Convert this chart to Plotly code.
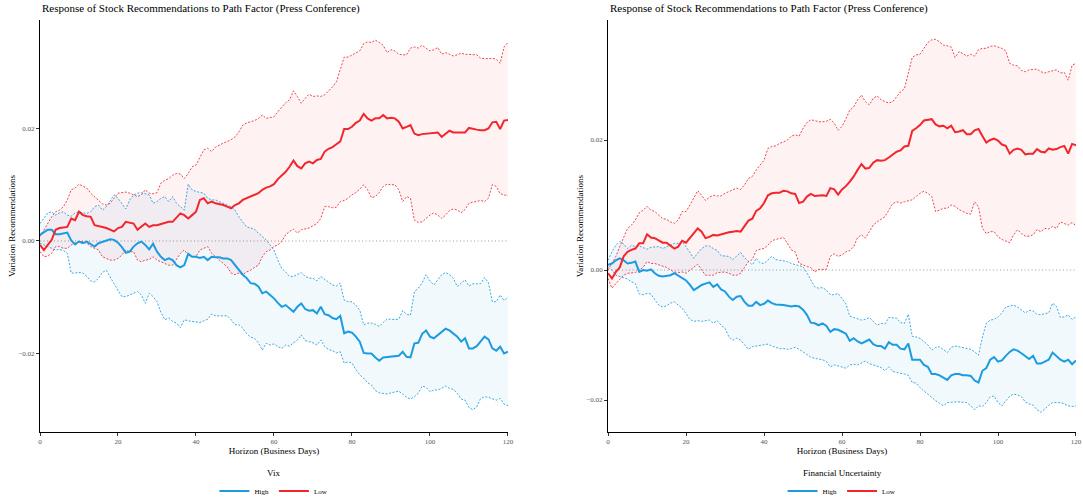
import plotly.graph_objects as go

days = list(range(0, 121))

# ---------------- Panel 1 : Vix ----------------
vix_low_mid = [-0.0007, -0.0016, -0.0007, 0.0002, 0.0020, 0.0023, 0.0024, 0.0025, 0.0040, 0.0037,
               0.0052, 0.0046, 0.0044, 0.0043, 0.0028, 0.0027, 0.0025, 0.0023, 0.0020, 0.0017,
               0.0023, 0.0025, 0.0034, 0.0033, 0.0031, 0.0020, 0.0025, 0.0031, 0.0025, 0.0028,
               0.0028, 0.0030, 0.0031, 0.0034, 0.0034, 0.0042, 0.0049, 0.0046, 0.0040, 0.0046,
               0.0052, 0.0073, 0.0076, 0.0067, 0.0070, 0.0067, 0.0066, 0.0064, 0.0061, 0.0058,
               0.0064, 0.0067, 0.0073, 0.0076, 0.0079, 0.0082, 0.0085, 0.0091, 0.0095, 0.0097,
               0.0101, 0.0110, 0.0116, 0.0123, 0.0132, 0.0143, 0.0133, 0.0129, 0.0138, 0.0141,
               0.0138, 0.0144, 0.0146, 0.0159, 0.0164, 0.0167, 0.0172, 0.0177, 0.0199, 0.0199,
               0.0203, 0.0210, 0.0214, 0.0226, 0.0218, 0.0214, 0.0218, 0.0218, 0.0224, 0.0218,
               0.0219, 0.0218, 0.0212, 0.0200, 0.0203, 0.0206, 0.0191, 0.0188, 0.0190, 0.0191,
               0.0192, 0.0193, 0.0193, 0.0185, 0.0190, 0.0196, 0.0193, 0.0193, 0.0192, 0.0193,
               0.0201, 0.0199, 0.0198, 0.0197, 0.0197, 0.0200, 0.0211, 0.0212, 0.0199, 0.0214,
               0.0215]
vix_low_up = [0.0008, 0.0020, 0.0031, 0.0043, 0.0052, 0.0055, 0.0061, 0.0073, 0.0091, 0.0094,
              0.0101, 0.0097, 0.0094, 0.0085, 0.0079, 0.0073, 0.0066, 0.0064, 0.0067, 0.0076,
              0.0085, 0.0086, 0.0087, 0.0085, 0.0082, 0.0079, 0.0082, 0.0091, 0.0085, 0.0084,
              0.0086, 0.0103, 0.0108, 0.0111, 0.0117, 0.0120, 0.0119, 0.0111, 0.0120, 0.0132,
              0.0135, 0.0150, 0.0162, 0.0165, 0.0159, 0.0167, 0.0171, 0.0174, 0.0177, 0.0180,
              0.0185, 0.0194, 0.0206, 0.0210, 0.0212, 0.0214, 0.0218, 0.0224, 0.0218, 0.0220,
              0.0221, 0.0230, 0.0239, 0.0246, 0.0251, 0.0267, 0.0257, 0.0245, 0.0254, 0.0261,
              0.0257, 0.0258, 0.0257, 0.0260, 0.0267, 0.0274, 0.0283, 0.0304, 0.0327, 0.0327,
              0.0331, 0.0334, 0.0338, 0.0351, 0.0354, 0.0353, 0.0357, 0.0353, 0.0348, 0.0335,
              0.0340, 0.0338, 0.0332, 0.0331, 0.0331, 0.0343, 0.0345, 0.0343, 0.0348, 0.0343,
              0.0338, 0.0340, 0.0344, 0.0332, 0.0335, 0.0332, 0.0329, 0.0331, 0.0334, 0.0332,
              0.0332, 0.0332, 0.0331, 0.0325, 0.0324, 0.0324, 0.0325, 0.0323, 0.0316, 0.0345,
              0.0353]
vix_low_lo = [-0.0019, -0.0028, -0.0027, -0.0022, -0.0010, -0.0010, -0.0013, -0.0013, -0.0007, -0.0004,
              -0.0001, -0.0001, -0.0004, -0.0010, -0.0013, -0.0016, -0.0028, -0.0031, -0.0034, -0.0034,
              -0.0031, -0.0025, -0.0016, -0.0019, -0.0019, -0.0034, -0.0037, -0.0034, -0.0033, -0.0028,
              -0.0034, -0.0037, -0.0040, -0.0043, -0.0043, -0.0033, -0.0022, -0.0016, -0.0025, -0.0028,
              -0.0028, -0.0016, -0.0013, -0.0010, -0.0022, -0.0028, -0.0034, -0.0040, -0.0046, -0.0057,
              -0.0060, -0.0057, -0.0060, -0.0055, -0.0052, -0.0047, -0.0043, -0.0028, -0.0019, -0.0016,
              -0.0010, -0.0007, -0.0001, 0.0011, 0.0017, 0.0021, 0.0014, 0.0020, 0.0021, 0.0023,
              0.0027, 0.0031, 0.0040, 0.0061, 0.0061, 0.0059, 0.0060, 0.0070, 0.0072, 0.0076,
              0.0082, 0.0086, 0.0092, 0.0100, 0.0091, 0.0077, 0.0079, 0.0086, 0.0097, 0.0101,
              0.0100, 0.0100, 0.0091, 0.0070, 0.0079, 0.0076, 0.0037, 0.0033, 0.0034, 0.0040,
              0.0046, 0.0050, 0.0046, 0.0040, 0.0046, 0.0054, 0.0057, 0.0055, 0.0050, 0.0056,
              0.0067, 0.0069, 0.0070, 0.0072, 0.0070, 0.0076, 0.0100, 0.0097, 0.0084, 0.0082,
              0.0080]
vix_high_mid = [0.0011, 0.0015, 0.0020, 0.0020, 0.0012, 0.0012, 0.0014, 0.0015, 0.0001, -0.0006,
                -0.0001, -0.0004, -0.0001, -0.0006, -0.0010, -0.0004, -0.0002, 0.0001, 0.0003, 0.0002,
                -0.0003, -0.0011, -0.0021, -0.0019, -0.0010, -0.0004, -0.0001, -0.0007, -0.0015, -0.0005,
                -0.0019, -0.0028, -0.0034, -0.0031, -0.0034, -0.0043, -0.0047, -0.0043, -0.0023, -0.0028,
                -0.0028, -0.0030, -0.0028, -0.0034, -0.0028, -0.0029, -0.0029, -0.0031, -0.0031, -0.0034,
                -0.0043, -0.0050, -0.0060, -0.0066, -0.0075, -0.0076, -0.0081, -0.0093, -0.0090, -0.0096,
                -0.0102, -0.0110, -0.0117, -0.0114, -0.0120, -0.0126, -0.0117, -0.0111, -0.0121, -0.0124,
                -0.0123, -0.0129, -0.0117, -0.0130, -0.0132, -0.0137, -0.0139, -0.0133, -0.0164, -0.0161,
                -0.0163, -0.0170, -0.0179, -0.0199, -0.0200, -0.0200, -0.0207, -0.0213, -0.0207, -0.0206,
                -0.0206, -0.0204, -0.0204, -0.0197, -0.0206, -0.0207, -0.0182, -0.0181, -0.0165, -0.0159,
                -0.0170, -0.0173, -0.0167, -0.0161, -0.0156, -0.0159, -0.0164, -0.0170, -0.0179, -0.0173,
                -0.0191, -0.0191, -0.0187, -0.0179, -0.0170, -0.0175, -0.0191, -0.0195, -0.0188, -0.0200,
                -0.0197]
vix_high_up = [0.0031, 0.0040, 0.0050, 0.0052, 0.0046, 0.0050, 0.0052, 0.0046, 0.0044, 0.0050,
               0.0052, 0.0050, 0.0049, 0.0052, 0.0061, 0.0064, 0.0055, 0.0061, 0.0072, 0.0082,
               0.0076, 0.0067, 0.0057, 0.0073, 0.0082, 0.0085, 0.0086, 0.0084, 0.0082, 0.0067,
               0.0070, 0.0076, 0.0079, 0.0070, 0.0079, 0.0067, 0.0061, 0.0055, 0.0101, 0.0091,
               0.0088, 0.0086, 0.0085, 0.0076, 0.0073, 0.0073, 0.0070, 0.0067, 0.0064, 0.0061,
               0.0055, 0.0043, 0.0034, 0.0025, 0.0023, 0.0021, 0.0014, 0.0008, 0.0002, -0.0007,
               -0.0016, -0.0034, -0.0049, -0.0055, -0.0063, -0.0063, -0.0060, -0.0056, -0.0063, -0.0066,
               -0.0066, -0.0071, -0.0063, -0.0068, -0.0072, -0.0078, -0.0080, -0.0075, -0.0105, -0.0108,
               -0.0108, -0.0114, -0.0123, -0.0149, -0.0146, -0.0146, -0.0148, -0.0152, -0.0145, -0.0139,
               -0.0139, -0.0140, -0.0139, -0.0124, -0.0130, -0.0132, -0.0090, -0.0084, -0.0074, -0.0060,
               -0.0071, -0.0078, -0.0069, -0.0060, -0.0056, -0.0060, -0.0066, -0.0081, -0.0075, -0.0069,
               -0.0080, -0.0076, -0.0076, -0.0076, -0.0065, -0.0074, -0.0108, -0.0108, -0.0096, -0.0106,
               -0.0099]
vix_high_lo = [-0.0004, -0.0007, -0.0010, -0.0013, -0.0016, -0.0015, -0.0017, -0.0022, -0.0057, -0.0057,
               -0.0056, -0.0057, -0.0063, -0.0071, -0.0073, -0.0066, -0.0056, -0.0052, -0.0065, -0.0076,
               -0.0088, -0.0099, -0.0099, -0.0096, -0.0093, -0.0090, -0.0096, -0.0111, -0.0093, -0.0099,
               -0.0108, -0.0127, -0.0140, -0.0137, -0.0143, -0.0146, -0.0154, -0.0140, -0.0142, -0.0143,
               -0.0145, -0.0145, -0.0142, -0.0139, -0.0130, -0.0133, -0.0133, -0.0133, -0.0133, -0.0140,
               -0.0149, -0.0149, -0.0155, -0.0165, -0.0171, -0.0173, -0.0181, -0.0194, -0.0182, -0.0185,
               -0.0183, -0.0188, -0.0191, -0.0185, -0.0187, -0.0181, -0.0176, -0.0167, -0.0177, -0.0179,
               -0.0181, -0.0185, -0.0176, -0.0188, -0.0193, -0.0195, -0.0199, -0.0197, -0.0217, -0.0215,
               -0.0217, -0.0229, -0.0238, -0.0244, -0.0252, -0.0256, -0.0266, -0.0270, -0.0271, -0.0272,
               -0.0270, -0.0268, -0.0267, -0.0272, -0.0278, -0.0281, -0.0277, -0.0271, -0.0258, -0.0260,
               -0.0268, -0.0265, -0.0265, -0.0262, -0.0258, -0.0262, -0.0264, -0.0271, -0.0281, -0.0283,
               -0.0296, -0.0300, -0.0295, -0.0280, -0.0277, -0.0278, -0.0280, -0.0283, -0.0280, -0.0290,
               -0.0293]

# ---------------- Panel 2 : Financial Uncertainty ----------------
fu_low_mid = [-0.0005, -0.0013, -0.0003, 0.0004, 0.0021, 0.0028, 0.0031, 0.0033, 0.0041, 0.0041,
              0.0055, 0.0050, 0.0049, 0.0046, 0.0042, 0.0042, 0.0038, 0.0033, 0.0036, 0.0045,
              0.0042, 0.0049, 0.0057, 0.0064, 0.0059, 0.0049, 0.0051, 0.0054, 0.0053, 0.0055,
              0.0057, 0.0058, 0.0059, 0.0060, 0.0059, 0.0067, 0.0076, 0.0079, 0.0091, 0.0095,
              0.0103, 0.0115, 0.0118, 0.0119, 0.0119, 0.0122, 0.0121, 0.0118, 0.0117, 0.0103,
              0.0105, 0.0113, 0.0117, 0.0114, 0.0115, 0.0115, 0.0114, 0.0126, 0.0124, 0.0116,
              0.0124, 0.0129, 0.0136, 0.0144, 0.0154, 0.0163, 0.0156, 0.0157, 0.0165, 0.0169,
              0.0168, 0.0169, 0.0173, 0.0178, 0.0182, 0.0184, 0.0190, 0.0191, 0.0214, 0.0218,
              0.0223, 0.0230, 0.0231, 0.0232, 0.0224, 0.0221, 0.0222, 0.0218, 0.0222, 0.0212,
              0.0213, 0.0215, 0.0209, 0.0209, 0.0215, 0.0217, 0.0206, 0.0196, 0.0200, 0.0202,
              0.0199, 0.0193, 0.0191, 0.0179, 0.0185, 0.0187, 0.0185, 0.0178, 0.0179, 0.0179,
              0.0186, 0.0182, 0.0181, 0.0187, 0.0185, 0.0186, 0.0189, 0.0191, 0.0179, 0.0194,
              0.0192]
fu_low_up = [0.0000, 0.0010, 0.0021, 0.0036, 0.0051, 0.0064, 0.0069, 0.0077, 0.0088, 0.0092,
             0.0098, 0.0092, 0.0090, 0.0085, 0.0079, 0.0078, 0.0074, 0.0072, 0.0077, 0.0090,
             0.0090, 0.0100, 0.0110, 0.0122, 0.0115, 0.0107, 0.0112, 0.0115, 0.0114, 0.0114,
             0.0118, 0.0121, 0.0123, 0.0126, 0.0124, 0.0131, 0.0141, 0.0144, 0.0154, 0.0162,
             0.0169, 0.0187, 0.0190, 0.0191, 0.0195, 0.0197, 0.0200, 0.0206, 0.0208, 0.0206,
             0.0218, 0.0227, 0.0231, 0.0230, 0.0228, 0.0228, 0.0229, 0.0232, 0.0226, 0.0215,
             0.0221, 0.0233, 0.0246, 0.0251, 0.0262, 0.0269, 0.0259, 0.0254, 0.0264, 0.0268,
             0.0262, 0.0259, 0.0257, 0.0259, 0.0267, 0.0274, 0.0279, 0.0303, 0.0327, 0.0331,
             0.0332, 0.0341, 0.0350, 0.0354, 0.0355, 0.0351, 0.0346, 0.0345, 0.0343, 0.0327,
             0.0336, 0.0333, 0.0329, 0.0332, 0.0329, 0.0339, 0.0341, 0.0341, 0.0344, 0.0345,
             0.0343, 0.0341, 0.0337, 0.0318, 0.0315, 0.0314, 0.0307, 0.0305, 0.0308, 0.0308,
             0.0309, 0.0305, 0.0303, 0.0305, 0.0307, 0.0308, 0.0303, 0.0304, 0.0292, 0.0315,
             0.0318]
fu_low_lo = [-0.0013, -0.0028, -0.0021, -0.0015, -0.0008, -0.0005, -0.0005, -0.0004, 0.0000, 0.0004,
             0.0013, 0.0010, 0.0010, 0.0008, 0.0005, 0.0004, 0.0000, -0.0003, -0.0004, -0.0003,
             -0.0005, 0.0000, 0.0005, 0.0009, 0.0000, -0.0008, -0.0008, -0.0008, -0.0004, -0.0003,
             -0.0003, -0.0005, -0.0008, -0.0008, -0.0005, 0.0004, 0.0013, 0.0016, 0.0030, 0.0032,
             0.0033, 0.0038, 0.0045, 0.0047, 0.0049, 0.0050, 0.0041, 0.0031, 0.0028, 0.0010,
             0.0008, 0.0005, 0.0004, -0.0003, 0.0001, 0.0001, 0.0001, 0.0021, 0.0025, 0.0021,
             0.0023, 0.0028, 0.0030, 0.0036, 0.0050, 0.0054, 0.0049, 0.0059, 0.0069, 0.0074,
             0.0078, 0.0082, 0.0092, 0.0102, 0.0105, 0.0103, 0.0105, 0.0107, 0.0108, 0.0113,
             0.0118, 0.0121, 0.0118, 0.0113, 0.0090, 0.0092, 0.0095, 0.0095, 0.0100, 0.0098,
             0.0093, 0.0090, 0.0087, 0.0086, 0.0105, 0.0097, 0.0064, 0.0056, 0.0059, 0.0059,
             0.0051, 0.0047, 0.0045, 0.0042, 0.0054, 0.0062, 0.0056, 0.0052, 0.0052, 0.0054,
             0.0062, 0.0059, 0.0064, 0.0063, 0.0067, 0.0064, 0.0074, 0.0072, 0.0069, 0.0073,
             0.0068]
fu_high_mid = [0.0008, 0.0010, 0.0015, 0.0018, 0.0015, 0.0010, 0.0011, 0.0013, -0.0003, 0.0000,
               -0.0001, 0.0001, -0.0005, -0.0009, -0.0010, -0.0009, -0.0008, -0.0005, -0.0009, -0.0013,
               -0.0016, -0.0023, -0.0031, -0.0027, -0.0023, -0.0021, -0.0019, -0.0026, -0.0022, -0.0030,
               -0.0033, -0.0041, -0.0046, -0.0041, -0.0040, -0.0049, -0.0055, -0.0055, -0.0049, -0.0054,
               -0.0052, -0.0047, -0.0051, -0.0053, -0.0053, -0.0054, -0.0055, -0.0056, -0.0055, -0.0056,
               -0.0061, -0.0069, -0.0081, -0.0082, -0.0085, -0.0082, -0.0086, -0.0095, -0.0091, -0.0092,
               -0.0095, -0.0098, -0.0109, -0.0105, -0.0110, -0.0113, -0.0110, -0.0107, -0.0114, -0.0117,
               -0.0117, -0.0121, -0.0111, -0.0115, -0.0115, -0.0121, -0.0122, -0.0113, -0.0138, -0.0138,
               -0.0138, -0.0146, -0.0149, -0.0160, -0.0160, -0.0162, -0.0165, -0.0169, -0.0162, -0.0160,
               -0.0160, -0.0162, -0.0162, -0.0163, -0.0170, -0.0173, -0.0155, -0.0151, -0.0138, -0.0134,
               -0.0141, -0.0139, -0.0132, -0.0126, -0.0122, -0.0124, -0.0128, -0.0132, -0.0137, -0.0132,
               -0.0144, -0.0144, -0.0141, -0.0138, -0.0127, -0.0132, -0.0138, -0.0141, -0.0138, -0.0145,
               -0.0139]
fu_high_up = [0.0015, 0.0028, 0.0038, 0.0044, 0.0040, 0.0033, 0.0038, 0.0036, 0.0037, 0.0035,
              0.0032, 0.0035, 0.0036, 0.0036, 0.0033, 0.0036, 0.0038, 0.0041, 0.0041, 0.0044,
              0.0036, 0.0026, 0.0018, 0.0026, 0.0033, 0.0037, 0.0037, 0.0033, 0.0030, 0.0022,
              0.0021, 0.0021, 0.0016, 0.0022, 0.0027, 0.0019, 0.0013, 0.0008, 0.0018, 0.0011,
              0.0010, 0.0015, 0.0021, 0.0016, 0.0015, 0.0015, 0.0013, 0.0010, 0.0008, 0.0006,
              0.0005, -0.0004, -0.0016, -0.0026, -0.0028, -0.0027, -0.0031, -0.0038, -0.0038, -0.0036,
              -0.0044, -0.0052, -0.0071, -0.0073, -0.0076, -0.0077, -0.0076, -0.0073, -0.0079, -0.0085,
              -0.0082, -0.0083, -0.0073, -0.0073, -0.0074, -0.0081, -0.0082, -0.0068, -0.0102, -0.0103,
              -0.0105, -0.0110, -0.0115, -0.0123, -0.0119, -0.0118, -0.0122, -0.0127, -0.0119, -0.0117,
              -0.0118, -0.0119, -0.0121, -0.0122, -0.0126, -0.0131, -0.0103, -0.0082, -0.0077, -0.0076,
              -0.0072, -0.0066, -0.0057, -0.0055, -0.0054, -0.0057, -0.0062, -0.0066, -0.0062, -0.0063,
              -0.0068, -0.0069, -0.0067, -0.0066, -0.0051, -0.0056, -0.0073, -0.0072, -0.0069, -0.0076,
              -0.0072]
fu_high_lo = [0.0005, 0.0000, -0.0008, -0.0010, -0.0013, -0.0014, -0.0018, -0.0021, -0.0037, -0.0038,
              -0.0036, -0.0037, -0.0046, -0.0054, -0.0057, -0.0055, -0.0051, -0.0049, -0.0054, -0.0059,
              -0.0067, -0.0076, -0.0079, -0.0078, -0.0079, -0.0078, -0.0077, -0.0082, -0.0078, -0.0085,
              -0.0090, -0.0103, -0.0108, -0.0105, -0.0108, -0.0115, -0.0122, -0.0118, -0.0117, -0.0117,
              -0.0115, -0.0114, -0.0117, -0.0119, -0.0121, -0.0121, -0.0122, -0.0121, -0.0119, -0.0122,
              -0.0126, -0.0129, -0.0134, -0.0136, -0.0137, -0.0138, -0.0141, -0.0149, -0.0146, -0.0148,
              -0.0149, -0.0151, -0.0146, -0.0145, -0.0146, -0.0143, -0.0140, -0.0144, -0.0146, -0.0149,
              -0.0150, -0.0155, -0.0149, -0.0156, -0.0158, -0.0159, -0.0160, -0.0162, -0.0173, -0.0174,
              -0.0181, -0.0186, -0.0192, -0.0197, -0.0201, -0.0205, -0.0209, -0.0204, -0.0203, -0.0203,
              -0.0203, -0.0203, -0.0204, -0.0209, -0.0215, -0.0209, -0.0210, -0.0204, -0.0195, -0.0194,
              -0.0204, -0.0209, -0.0201, -0.0194, -0.0191, -0.0192, -0.0195, -0.0203, -0.0206, -0.0208,
              -0.0215, -0.0219, -0.0214, -0.0208, -0.0204, -0.0204, -0.0204, -0.0206, -0.0209, -0.0210,
              -0.0209]

title_text = "Response of Stock Recommendations to Path Factor (Press Conference)"
x_title = "Horizon (Business Days)"
y_title = "Variation Recommendations"
x_ticks = [0, 20, 40, 60, 80, 100, 120]
y_ticks = [-0.02, 0.0, 0.02]
group_names = ["High", "Low"]
legend_titles = ["Vix", "Financial Uncertainty"]

BLUE = "#1C9CE0"
RED = "#F2262C"
BLUE_FILL = "rgba(28,156,224,0.06)"
RED_FILL = "rgba(242,38,44,0.06)"
FONT = "Liberation Serif"

panels = [
    dict(xa="x", ya="y", legend="legend",
         high=(vix_high_mid, vix_high_up, vix_high_lo),
         low=(vix_low_mid, vix_low_up, vix_low_lo)),
    dict(xa="x2", ya="y2", legend="legend2",
         high=(fu_high_mid, fu_high_up, fu_high_lo),
         low=(fu_low_mid, fu_low_up, fu_low_lo)),
]

fig = go.Figure()
for p in panels:
    groups = [("High", p["high"], BLUE, BLUE_FILL), ("Low", p["low"], RED, RED_FILL)]
    # ribbons
    for name, (mid, up, lo), col, fillc in groups:
        fig.add_trace(go.Scatter(
            x=days + days[::-1], y=up + lo[::-1], mode="lines", fill="toself",
            fillcolor=fillc, line=dict(width=0), hoverinfo="skip", showlegend=False,
            xaxis=p["xa"], yaxis=p["ya"]))
    # bounds
    for name, (mid, up, lo), col, fillc in groups:
        for b in (up, lo):
            fig.add_trace(go.Scatter(
                x=days, y=b, mode="lines", line=dict(color=col, width=1, dash="2px,1.6px"),
                opacity=0.85, showlegend=False, xaxis=p["xa"], yaxis=p["ya"]))
    # central estimates
    for name, (mid, up, lo), col, fillc in groups:
        fig.add_trace(go.Scatter(
            x=days, y=mid, mode="lines", name=name, line=dict(color=col, width=2),
            showlegend=True, legend=p["legend"], xaxis=p["xa"], yaxis=p["ya"]))

axis_common = dict(
    showgrid=False, zeroline=False, showline=True, linecolor="black", linewidth=1,
    ticks="outside", ticklen=3, tickwidth=1, tickcolor="#333333", automargin=False,
    tickfont=dict(family=FONT, size=7, color="#555555"),
)

fig.update_layout(
    width=1083, height=503,
    margin=dict(l=40, r=7, t=20, b=71, autoexpand=False),
    paper_bgcolor="white", plot_bgcolor="white",
    font=dict(family=FONT, color="black"),
    xaxis=dict(domain=[0, 0.4517], range=[0, 120], tickvals=x_ticks, anchor="y",
               title=dict(text=x_title, font=dict(family=FONT, size=9, color="black"), standoff=0),
               **axis_common),
    yaxis=dict(domain=[0, 1], range=[-0.03396, 0.03929], tickvals=y_ticks, tickformat=".2f", anchor="x",
               title=dict(text=y_title, font=dict(family=FONT, size=9, color="black"), standoff=1),
               **axis_common),
    xaxis2=dict(domain=[0.5483, 1], range=[0, 120], tickvals=x_ticks, anchor="y2",
                title=dict(text=x_title, font=dict(family=FONT, size=9, color="black"), standoff=0),
                **axis_common),
    yaxis2=dict(domain=[0, 1], range=[-0.02492, 0.03846], tickvals=y_ticks, tickformat=".2f", anchor="x2",
                title=dict(text=y_title, font=dict(family=FONT, size=9, color="black"), standoff=1),
                **axis_common),
    legend=dict(orientation="h", x=0.2258, xanchor="center", y=-0.143, yanchor="middle",
                font=dict(family=FONT, size=7, color="black"), bgcolor="rgba(0,0,0,0)",
                itemwidth=30, tracegroupgap=0),
    legend2=dict(orientation="h", x=0.7742, xanchor="center", y=-0.143, yanchor="middle",
                 font=dict(family=FONT, size=7, color="black"), bgcolor="rgba(0,0,0,0)",
                 itemwidth=30, tracegroupgap=0),
    showlegend=True,
)

# dotted zero reference lines
for xa, ya in (("x", "y"), ("x2", "y2")):
    fig.add_shape(type="line", xref=xa + " domain", yref=ya, x0=0, x1=1, y0=0, y1=0,
                  line=dict(color="#9A9A9A", width=1, dash="1px,2.5px"), layer="below")

# panel titles and legend titles
for xa, ya, lt, cx in (("x", "y", legend_titles[0], 0.2258), ("x2", "y2", legend_titles[1], 0.7742)):
    fig.add_annotation(text=title_text, xref=xa + " domain", yref=ya + " domain", x=0, y=1,
                       xanchor="left", yanchor="bottom", yshift=3, showarrow=False,
                       font=dict(family=FONT, size=11, color="black"))
    fig.add_annotation(text=lt, xref="paper", yref="paper", x=cx, y=-0.1,
                       xanchor="center", yanchor="middle", showarrow=False,
                       font=dict(family=FONT, size=9, color="black"))

fig.write_html("out.html", config={"displayModeBar": False},
               post_script="document.body.style.margin='0';document.body.style.overflow='hidden';")
